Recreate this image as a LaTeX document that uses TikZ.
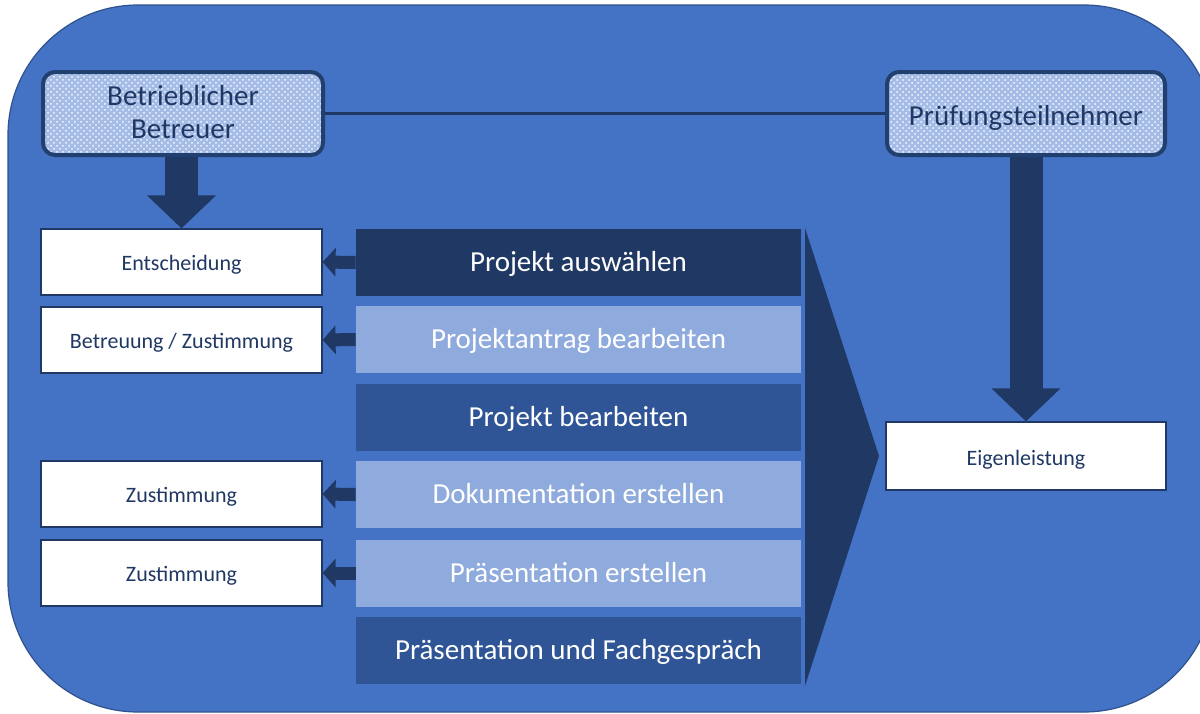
\documentclass[tikz,border=0pt]{standalone}
\usepackage{fontspec}
\setmainfont{Carlito}
\usetikzlibrary{arrows.meta,patterns,calc}
\definecolor{bgblue}{HTML}{4472C4}
\definecolor{bgline}{HTML}{2F528F}
\definecolor{navy}{HTML}{203864}
\definecolor{midblue}{HTML}{2F5597}
\definecolor{lightblue}{HTML}{8FAADC}
\definecolor{patbg}{HTML}{A5BCE6}
\definecolor{topborder}{HTML}{22406F}
\tikzset{
  topbox/.style={rounded corners=6pt, draw=topborder, line width=2pt,
    preaction={fill=patbg}, pattern=crosshatch dots, pattern color=white!90!patbg,
    minimum height=41.5pt, align=center, text=navy, font=\fontsize{14.5}{16.2}\selectfont, inner sep=0pt},
  wbox/.style={fill=white, draw=navy, line width=0.6pt, minimum width=140.5pt,
    minimum height=33pt, text=navy, font=\fontsize{11}{13}\selectfont, inner sep=0pt,
    text height=9.5pt, text depth=1.5pt},
  bar/.style={minimum width=222.5pt, minimum height=33.5pt, text=white,
    font=\fontsize{14.5}{16}\selectfont, inner sep=0pt, text height=11pt, text depth=1.8pt},
  smallarrow/.style={navy, line width=6.5pt, -{Triangle[width=14pt,length=6.5pt]}},
  bigarrow/.style={navy, line width=16.5pt, -{Triangle[width=33.5pt,length=16.5pt]}},
}
\begin{document}
\begin{tikzpicture}[x=0.5pt,y=-0.5pt]
\useasboundingbox (0,0) rectangle (1200,713);
\begin{scope}
\clip (0,0) rectangle (1200,713);
\draw[fill=bgblue, draw=bgline, line width=0.6pt, rounded corners=65pt] (8,5) rectangle (1214,712);
\end{scope}
% top boxes
\node[topbox, minimum width=140pt, text height=26.8pt, text depth=2pt] (btr) at (183,113.5) {Betrieblicher\\Betreuer};
\node[topbox, minimum width=139pt, text height=13.3pt, text depth=1.8pt] (pru) at (1026,113.5) {Prüfungsteilnehmer};
\draw[navy, line width=1.6pt] (btr.east) -- (pru.west);
% left boxes
\node[wbox] (e1) at (181.5,262) {Entscheidung};
\node[wbox] (e2) at (181.5,340) {Betreuung / Zustimmung};
\node[wbox] (e4) at (181.5,494) {Zustimmung};
\node[wbox] (e5) at (181.5,573) {Zustimmung};
% bars
\node[bar, fill=navy] (b1) at (578.5,262.5) {Projekt auswählen};
\node[bar, fill=lightblue] (b2) at (578.5,339.5) {Projektantrag bearbeiten};
\node[bar, fill=midblue] (b3) at (578.5,417.5) {Projekt bearbeiten};
\node[bar, fill=lightblue] (b4) at (578.5,494.5) {Dokumentation erstellen};
\node[bar, fill=lightblue] (b5) at (578.5,573) {Präsentation erstellen};
\node[bar, fill=midblue] (b6) at (578.5,650) {Präsentation und Fachgespräch};
% Eigenleistung
\node[wbox, minimum width=140pt, minimum height=34pt, text height=10.5pt, text depth=1.5pt] (eig) at (1026,456) {Eigenleistung};
% chevron
\fill[navy] (805,228) -- (879,456) -- (805,686) -- cycle;
% small arrows
\draw[smallarrow] (b1.west) -- (e1.east);
\draw[smallarrow] (b2.west) -- (e2.east);
\draw[smallarrow] (b4.west) -- (e4.east);
\draw[smallarrow] (b5.west) -- (e5.east);
% big arrows
\draw[bigarrow] (e1.north |- btr.south) -- (e1.north);
\draw[bigarrow] (pru.south) -- (eig.north);
\end{tikzpicture}
\end{document}
